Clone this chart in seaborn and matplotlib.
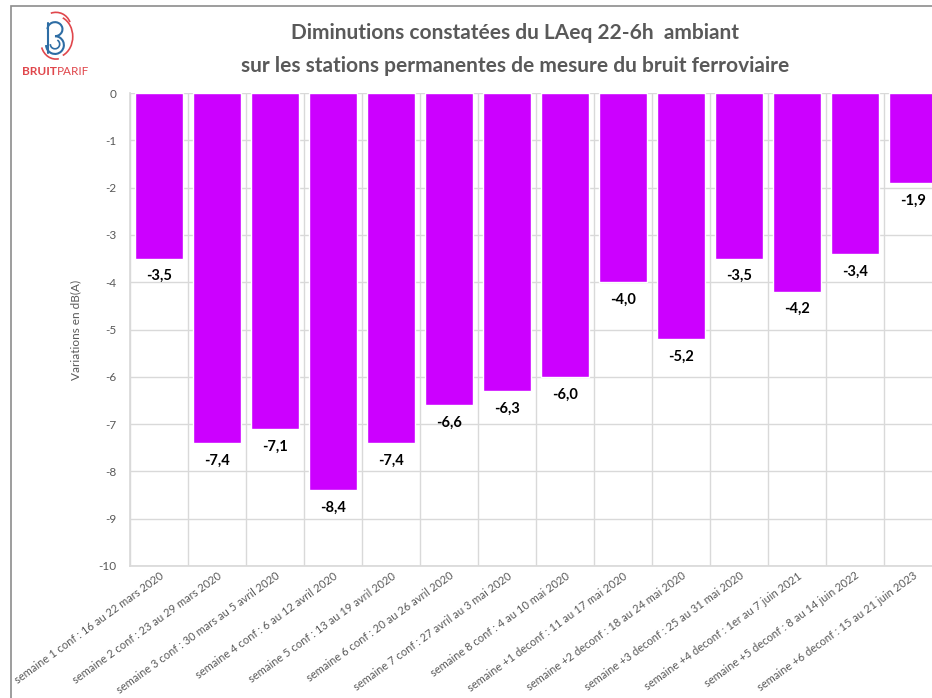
import numpy as np
import matplotlib
matplotlib.use("Agg")
import matplotlib.pyplot as plt
from matplotlib.patches import Rectangle, Arc
import seaborn as sns
import pandas as pd

# Data
semaines = [
    "semaine 1 conf : 16 au 22 mars 2020",
    "semaine 2 conf : 23 au 29 mars 2020",
    "semaine 3 conf : 30 mars au 5 avril 2020",
    "semaine 4 conf : 6 au 12 avril 2020",
    "semaine 5 conf : 13 au 19 avril 2020",
    "semaine 6 conf : 20 au 26 avril 2020",
    "semaine 7 conf : 27 avril au 3 mai 2020",
    "semaine 8 conf : 4 au 10 mai 2020",
    "semaine +1 deconf : 11 au 17 mai 2020",
    "semaine +2 deconf : 18 au 24 mai 2020",
    "semaine +3 deconf : 25 au 31 mai 2020",
    "semaine +4 deconf : 1er au 7 juin 2021",
    "semaine +5 deconf : 8 au 14 juin 2022",
    "semaine +6 deconf : 15 au 21 juin 2023",
]
variations = [-3.5, -7.4, -7.1, -8.4, -7.4, -6.6, -6.3, -6.0, -4.0, -5.2, -3.5, -4.2, -3.4, -1.9]
y_ticks = list(range(0, -11, -1))

df = pd.DataFrame({"semaine": semaines, "variation": variations})

sns.set_theme(style="white")
plt.rcParams["font.family"] = ["Lato", "DejaVu Sans"]
plt.rcParams["axes.unicode_minus"] = False

grey = "#595959"
fig = plt.figure(figsize=(9.32, 6.98), dpi=100)
# plot area runs past the right edge, as in the cropped reference
ax = fig.add_axes([130 / 932, 132 / 698, 812 / 932, 473 / 698])

sns.barplot(data=df, x="semaine", y="variation", color="#CC00FF", saturation=1,
            width=0.83, ax=ax, zorder=3)

ax.set_ylim(-10, 0)
ax.set_xlim(-0.5, len(semaines) - 0.5)
ax.set_yticks(y_ticks)
ax.set_yticklabels([str(t) for t in y_ticks], color=grey, fontsize=8.5)
ax.tick_params(axis="y", length=0, pad=10)
ax.tick_params(axis="x", length=0, pad=3)
ax.set_xticks(range(len(semaines)))
ax.set_xticklabels(semaines, rotation=36, ha="right", rotation_mode="anchor",
                   color=grey, fontsize=8)
ax.set_xticks(np.arange(-0.5, len(semaines), 1), minor=True)
ax.grid(axis="y", which="major", color="#d9d9d9", lw=1, zorder=0)
ax.grid(axis="x", which="minor", color="#d9d9d9", lw=1, zorder=0)
for s in ["top", "right"]:
    ax.spines[s].set_visible(False)
for s in ["left", "bottom"]:
    ax.spines[s].set_color("#d9d9d9")
ax.set_xlabel("")
ax.set_ylabel("Variations en dB(A)", color=grey, fontsize=8.5, labelpad=12)

for i, v in enumerate(variations):
    ax.text(i, v - 0.37, f"{v:.1f}".replace(".", ","), ha="center", va="center",
            fontsize=10.5, fontweight="bold", color="black", zorder=4)

fig.text(0.553, 0.953, "Diminutions constatées du LAeq 22-6h  ambiant",
         ha="center", va="center", fontsize=15, fontweight="bold", color=grey)
fig.text(0.553, 0.905, "sur les stations permanentes de mesure du bruit ferroviaire",
         ha="center", va="center", fontsize=15, fontweight="bold", color=grey)

# logo
t1 = fig.text(0.024, 0.897, "BRUIT", ha="left", va="center", fontsize=8.5,
              fontweight="bold", color="#E0474C")
fig.canvas.draw()
bb = t1.get_window_extent().transformed(fig.transFigure.inverted())
fig.text(bb.x1, 0.897, "PARIF", ha="left", va="center", fontsize=8.5, color="#E0474C")
lax = fig.add_axes([0.035, 0.91, 0.05, 0.075])
lax.set_xlim(-1, 1)
lax.set_ylim(-1.4, 1.4)
lax.set_aspect("equal")
lax.axis("off")
blue = "#2E6DA4"
red = "#E0474C"
lax.plot([-0.45, -0.45], [-0.9, 0.75], color=blue, lw=1.5)
lax.add_patch(Arc((-0.05, 0.4), 0.8, 0.75, theta1=-90, theta2=180, color=blue, lw=1.5))
lax.add_patch(Arc((-0.05, -0.45), 0.95, 0.95, theta1=-180, theta2=90, color=blue, lw=1.5))
lax.add_patch(Arc((-0.05, -0.4), 0.5, 0.5, theta1=-180, theta2=60, color=blue, lw=1.2))
lax.add_patch(Arc((0.0, 0.0), 1.8, 2.2, theta1=-70, theta2=70, color=red, lw=1.2))
lax.add_patch(Arc((0.0, 0.5), 1.6, 1.6, theta1=20, theta2=110, color=red, lw=1.2))
lax.add_patch(Arc((0.0, -0.3), 1.6, 1.8, theta1=200, theta2=280, color=red, lw=1.2))

# outer frame
fig.patches.append(Rectangle((11 / 932, -0.1), 1.2, 1.1 - 6 / 698, transform=fig.transFigure,
                             fill=False, edgecolor="#8c8c8c", lw=1.2))

fig.savefig("out.png", dpi=100)
